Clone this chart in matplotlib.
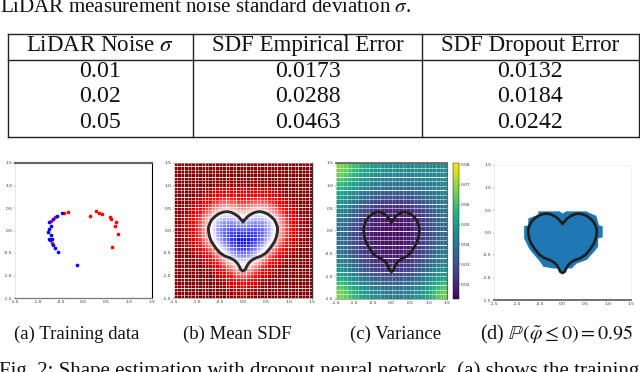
import numpy as np
import matplotlib
matplotlib.use("Agg")
import matplotlib.pyplot as plt

plt.rcParams['font.family'] = ['Liberation Serif', 'DejaVu Serif']
plt.rcParams['mathtext.fontset'] = 'stix'

# ---------- data ----------
table_header = ["LiDAR Noise $\\sigma$", "SDF Empirical Error", "SDF Dropout Error"]
noise_col = ["0.01", "0.02", "0.05"]
empirical_col = ["0.0173", "0.0288", "0.0463"]
dropout_col = ["0.0132", "0.0184", "0.0242"]

red_x = [-.33, -.42, -.62, -.71, -.69, .15, .28, .35, .395, .57, .61, .71, .69, .75, .63]
red_y = [.41, .39, .31, .21, -.28, .32, .44, .385, .37, .30, .26, .20, .11, -.08, -.37]
blue_x = [-.15, -.56, -.63, -.67, -.69, -.76, -.72, -.78, -.76, -.72, -.75, -.66, -.57, -.47, -.73]
blue_y = [-.76, -.47, -.39, -.32, -.19, -.18, -.10, -.04, .04, .11, .19, .26, .32, .38, -.22]

heart_x = [0, -.05, -.1, -.17, -.25, -.34, -.43, -.53, -.61, -.68, -.72, -.75, -.75, -.73, -.69, -.6, -.5,
           -.39, -.28, -.19, -.12, -.08, -.05, 0, .05, .08, .12, .19, .28, .39, .5, .6, .69, .73, .75,
           .75, .72, .68, .61, .53, .43, .34, .25, .17, .1, .05, 0]
heart_y = [.2, .25, .31, .36, .40, .42, .41, .37, .31, .24, .16, .07, -.02, -.13, -.24, -.38, -.5,
           -.57, -.61, -.66, -.73, -.8, -.87, -.9, -.87, -.8, -.73, -.66, -.61, -.57, -.5, -.38, -.24, -.13, -.02,
           .07, .16, .24, .31, .37, .41, .42, .40, .36, .31, .25, .2]

# mean SDF read on a coarse grid, x = 0 .. 1.5 (mirrored), y = 1.5 .. -1.5
sdf_half = [
    [1.05, 1.05, 1.05, 1.15, 1.25, 1.30, 1.40],
    [.80, .80, .80, .90, 1.00, 1.10, 1.20],
    [.60, .55, .55, .65, .80, .95, 1.10],
    [.40, .30, .30, .40, .55, .75, .95],
    [.20, .05, .05, .20, .40, .60, .85],
    [-.05, -.15, -.15, 0, .25, .50, .75],
    [-.25, -.30, -.25, -.02, .25, .50, .75],
    [-.45, -.35, -.20, .05, .30, .55, .80],
    [-.30, -.20, .02, .25, .45, .70, .90],
    [-.10, .03, .20, .45, .65, .85, 1.05],
    [.10, .25, .45, .65, .85, 1.05, 1.20],
    [.35, .45, .65, .85, 1.05, 1.20, 1.35],
    [.60, .70, .85, 1.05, 1.20, 1.35, 1.50],
]

# variance read on a coarse grid, x = -1.5 .. 1.5, y = 1.5 .. -1.5
variance = [
    [.070, .060, .052, .048, .047, .046, .045, .046, .045],
    [.058, .050, .045, .040, .039, .039, .039, .041, .044],
    [.048, .040, .032, .026, .024, .025, .028, .034, .041],
    [.042, .032, .022, .017, .016, .016, .020, .028, .037],
    [.038, .027, .019, .015, .015, .015, .018, .026, .036],
    [.038, .027, .020, .016, .015, .016, .020, .028, .038],
    [.043, .032, .025, .020, .018, .020, .025, .033, .043],
    [.052, .042, .033, .028, .026, .028, .033, .040, .050],
    [.070, .058, .050, .044, .042, .042, .045, .054, .068],
]
cbar_ticks = [.02, .03, .04, .05, .06, .07, .08]
cbar_labels = ["0.02", "0.03", "0.04", "0.05", "0.06", "0.07", "0.08"]

blob_x = [0, .08, .14, .52, .60, .74, .80, .88, .88, .78, .78, .70, .53, .31, .20, -.2, -.42, -.49, -.71, -.75,
          -.84, -.84, -.75, -.75, -.60, -.53, -.53, -.14, -.06]
blob_y = [.42, .47, .47, .47, .43, .37, .16, .14, -.11, -.13, -.32, -.42, -.61, -.69, -.80, -.80, -.76, -.65, -.39, -.32,
          -.13, .14, .16, .31, .37, .39, .47, .47, .47]

axis_ticks = [-1.5, -1.0, -0.5, 0.0, 0.5, 1.0, 1.5]
captions = ["(a) Training data", "(b) Mean SDF", "(c) Variance",
            "(d) $\\mathbb{P}(\\tilde{\\varphi} \\leq 0) = 0.95$"]
caption_sizes = [13.5, 13.5, 13.5, 14.5]
top_text = "LiDAR measurement noise standard deviation $\\sigma$."
bottom_text = "Fig. 2: Shape estimation with dropout neural network. (a) shows the training"

# ---------- figure ----------
W, H = 640, 372
fig = plt.figure(figsize=(W / 100, H / 100), dpi=100)


def add_ax(x0, y0, x1, y1):
    return fig.add_axes([x0 / W, 1 - y1 / H, (x1 - x0) / W, (y1 - y0) / H])


def style(ax, spines):
    ax.set_xlim(-1.5, 1.5)
    ax.set_ylim(-1.5, 1.5)
    ax.set_xticks(axis_ticks)
    ax.set_yticks(axis_ticks)
    ax.tick_params(labelsize=3.2, length=1, width=0.3, pad=0.6, colors='#333333',
                   labelfontfamily='DejaVu Sans')
    ax.set_xticklabels([f"{t:.1f}" for t in axis_ticks])
    ax.set_yticklabels([f"{t:.1f}" for t in axis_ticks])
    for name, (col, lw) in spines.items():
        ax.spines[name].set_color(col)
        ax.spines[name].set_linewidth(lw)


def white_grid(ax, pitch_h, pitch_v, a_h, a_v):
    for i, p in enumerate(np.arange(-1.5, 1.5, pitch_h)):
        ax.axhline(p, color='white', lw=0.7, alpha=a_h if i % 3 == 0 else a_h * 0.6, zorder=2)
    for i, p in enumerate(np.arange(-1.5, 1.5, pitch_v)):
        ax.axvline(p, color='white', lw=0.6, alpha=a_v if i % 3 == 0 else a_v * 0.6, zorder=2)


# panel a
axa = add_ax(15, 163, 152, 298)
axa.scatter(red_x, red_y, s=7, c='red', linewidths=0, zorder=3)
axa.scatter(blue_x, blue_y, s=7, c='blue', linewidths=0, zorder=4)
style(axa, {'top': ('#666666', 1.6), 'right': ('black', 0.8),
            'bottom': ('#777777', 0.9), 'left': ('#e4e4e4', 0.6)})

# panel b
axb = add_ax(174, 163, 312, 298)
half = np.array(sdf_half)
sdf = np.hstack([half[:, :0:-1], half])
axb.imshow(sdf, cmap='seismic', vmin=-.75, vmax=.75, extent=(-1.5, 1.5, -1.5, 1.5),
           interpolation='bicubic', aspect='auto')
white_grid(axb, 0.075, 0.075, 0.85, 0.85)
axb.plot(heart_x, heart_y, color='#2b2b2b', lw=2.1, zorder=5, solid_joinstyle='round')
style(axb, {'top': ('#bbbbbb', 0.4), 'right': ('#333333', 1.0),
            'bottom': ('#999999', 0.5), 'left': ('#dddddd', 0.4)})

# panel c
axc = add_ax(336, 163, 447, 299)
im = axc.imshow(np.array(variance), cmap='viridis', vmin=.0125, vmax=.081,
                extent=(-1.5, 1.5, -1.5, 1.5), interpolation='bicubic', aspect='auto')
white_grid(axc, 0.1, 0.1, 0.9, 0.35)
axc.plot(heart_x, heart_y, color='#1e1e1e', lw=1.9, zorder=5, solid_joinstyle='round')
style(axc, {'top': ('#666666', 1.3), 'right': ('#666666', 0.8),
            'bottom': ('#888888', 0.5), 'left': ('#dddddd', 0.4)})

cax = add_ax(453, 163, 459, 299)
cb = fig.colorbar(im, cax=cax)
cb.set_ticks(cbar_ticks)
cb.set_ticklabels(cbar_labels)
cb.ax.tick_params(labelsize=3.2, length=1, width=0.3, pad=0.6, colors='#333333',
                  labelfontfamily='DejaVu Sans')
cb.outline.set_linewidth(0.3)

# panel d
axd = add_ax(494, 165, 631, 300)
axd.fill(blob_x, blob_y, color='#1f77b4', lw=0, zorder=2)
axd.fill(heart_x, heart_y, color='#1f77b4', lw=0, zorder=2)
axd.plot(heart_x, heart_y, color='#1e1e1e', lw=1.9, zorder=5, solid_joinstyle='round')
style(axd, {'top': ('#eeeeee', 0.5), 'right': ('#eeeeee', 0.5),
            'bottom': ('#666666', 1.3), 'left': ('#e4e4e4', 0.5)})

# page overlay in pixel units
pg = fig.add_axes([0, 0, 1, 1], zorder=10)
pg.set_xlim(0, W)
pg.set_ylim(H, 0)
pg.axis('off')
pg.patch.set_alpha(0)

TXT = '#111111'
pg.text(0, 12, top_text, fontsize=15.1, ha='left', va='baseline', color=TXT)
pg.text(-1, 376, bottom_text, fontsize=15.0, ha='left', va='baseline', color=TXT)

# table
xs = [8, 193, 422, 639]
for y in [33.5, 60, 136.5]:
    pg.plot([xs[0], xs[-1]], [y, y], color='#222222', lw=1.0, solid_capstyle='projecting')
for x in xs:
    pg.plot([x, x], [33.5, 136.5], color='#222222', lw=1.0, solid_capstyle='projecting')
centers = [100, 308, 530]
for cx, h in zip(centers, table_header):
    pg.text(cx, 51, h, fontsize=16.5, ha='center', va='baseline', color=TXT)
for ry, a, b, c in zip([77, 102.5, 127.5], noise_col, empirical_col, dropout_col):
    for cx, v in zip(centers, (a, b, c)):
        pg.text(cx, ry, v, fontsize=17.2, ha='center', va='baseline', color=TXT)

# captions
for cx, c, fs in zip([76.5, 237, 396, 557], captions, caption_sizes):
    pg.text(cx, 339, c, fontsize=fs, ha='center', va='baseline', color=TXT)

fig.savefig('out.png', dpi=100)
